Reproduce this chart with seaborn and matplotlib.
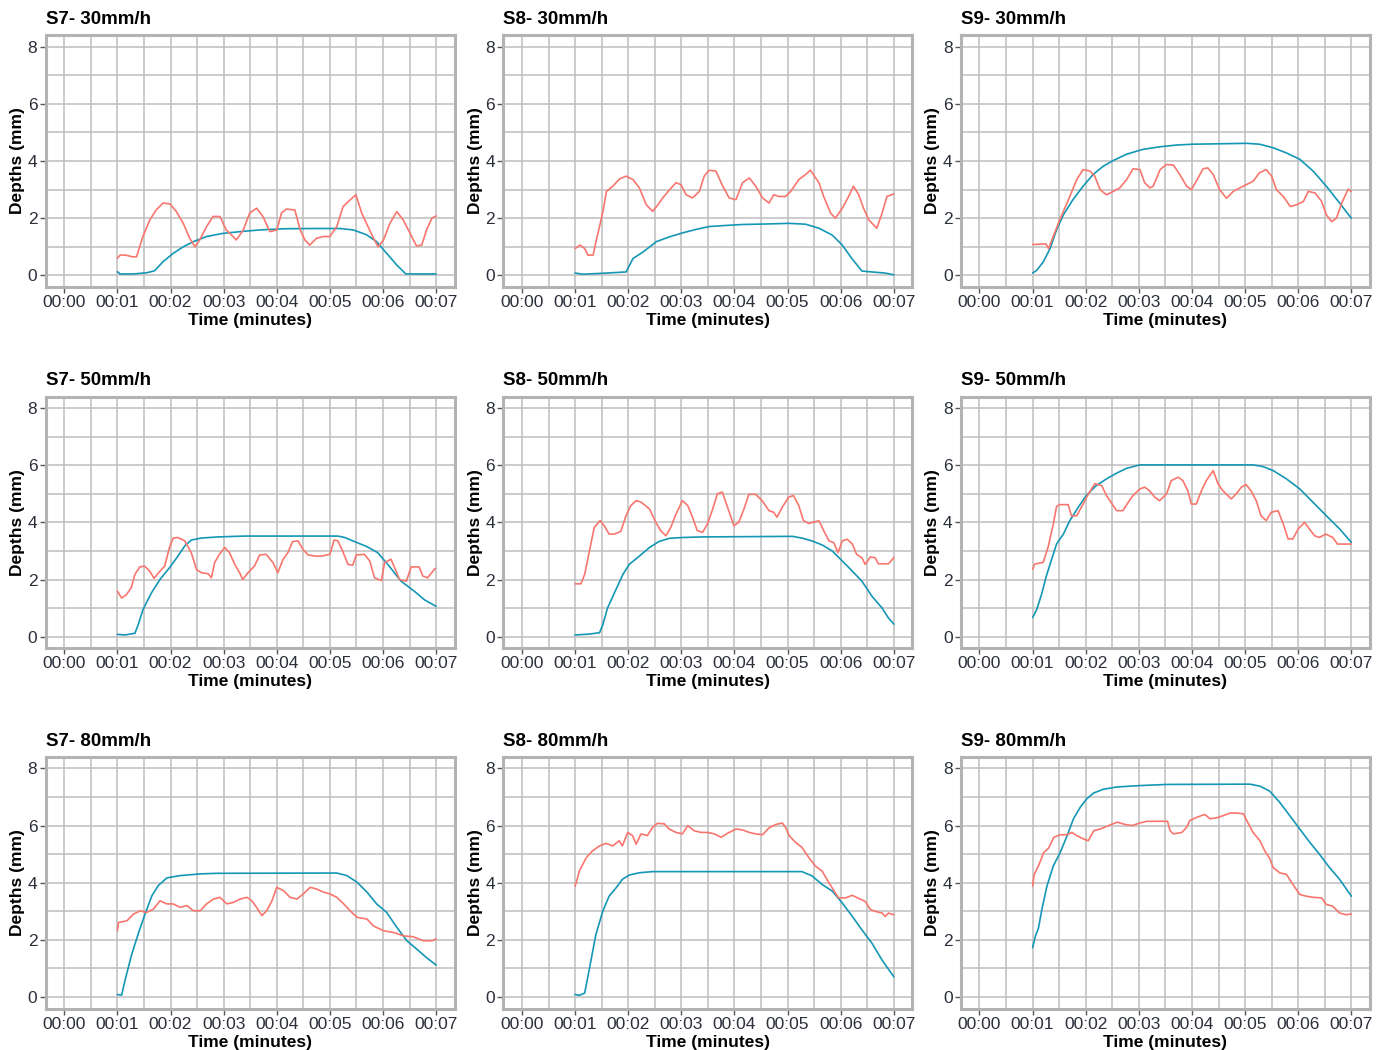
import numpy as np
import pandas as pd
import matplotlib
matplotlib.use("Agg")
import matplotlib.pyplot as plt
import seaborn as sns

# ---------------- data (time in minutes, depth in mm) ----------------
S7_30_T_RED = [1.0, 1.05, 1.15, 1.28, 1.36, 1.48, 1.61, 1.73, 1.86, 1.99, 2.11, 2.24, 2.36, 2.46, 2.55, 2.68, 2.80, 2.93, 3.05, 3.24, 3.37, 3.49, 3.62, 3.74, 3.87, 4.0, 4.09, 4.18, 4.34, 4.44, 4.53, 4.62, 4.75, 4.88, 5.0, 5.13, 5.25, 5.38, 5.49, 5.60, 5.69, 5.82, 5.91, 6.01, 6.13, 6.26, 6.38, 6.51, 6.63, 6.73, 6.82, 6.92, 7.0]
S7_30_RED = [0.6, 0.71, 0.71, 0.65, 0.65, 1.36, 1.94, 2.29, 2.53, 2.5, 2.23, 1.82, 1.3, 1.0, 1.24, 1.71, 2.06, 2.06, 1.59, 1.24, 1.59, 2.18, 2.35, 2.06, 1.53, 1.59, 2.18, 2.32, 2.29, 1.59, 1.24, 1.06, 1.3, 1.36, 1.36, 1.71, 2.41, 2.64, 2.82, 2.18, 1.82, 1.3, 1.0, 1.24, 1.82, 2.23, 1.94, 1.47, 1.03, 1.06, 1.59, 2.0, 2.08]
S7_30_T_BLUE = [1.0, 1.05, 1.3, 1.55, 1.70, 1.86, 2.05, 2.24, 2.43, 2.68, 2.99, 3.31, 3.68, 4.12, 4.75, 5.19, 5.44, 5.69, 5.88, 6.07, 6.26, 6.43, 7.0]
S7_30_BLUE = [0.13, 0.05, 0.05, 0.09, 0.16, 0.48, 0.77, 1.0, 1.18, 1.36, 1.47, 1.53, 1.59, 1.63, 1.64, 1.64, 1.59, 1.42, 1.18, 0.77, 0.36, 0.05, 0.05]

S8_30_T_RED = [1.0, 1.09, 1.18, 1.24, 1.34, 1.40, 1.46, 1.53, 1.59, 1.71, 1.84, 1.96, 2.09, 2.21, 2.34, 2.46, 2.56, 2.65, 2.78, 2.90, 2.99, 3.09, 3.21, 3.34, 3.43, 3.52, 3.65, 3.78, 3.90, 4.03, 4.15, 4.28, 4.40, 4.53, 4.65, 4.74, 4.84, 4.96, 5.06, 5.21, 5.34, 5.43, 5.59, 5.68, 5.81, 5.90, 6.03, 6.15, 6.24, 6.34, 6.43, 6.53, 6.68, 6.78, 6.87, 7.0]
S8_30_RED = [0.94, 1.06, 0.94, 0.71, 0.71, 1.24, 1.71, 2.29, 2.94, 3.12, 3.38, 3.47, 3.35, 3.06, 2.47, 2.24, 2.47, 2.71, 3.0, 3.24, 3.18, 2.82, 2.71, 2.94, 3.47, 3.68, 3.65, 3.12, 2.71, 2.65, 3.24, 3.41, 3.12, 2.71, 2.53, 2.82, 2.76, 2.76, 2.94, 3.35, 3.53, 3.68, 3.24, 2.76, 2.18, 2.0, 2.35, 2.76, 3.12, 2.82, 2.35, 1.94, 1.65, 2.18, 2.76, 2.85]
S8_30_T_BLUE = [1.0, 1.15, 1.59, 1.96, 2.09, 2.28, 2.53, 2.78, 3.03, 3.28, 3.53, 3.78, 4.15, 4.65, 5.03, 5.34, 5.59, 5.84, 6.03, 6.21, 6.40, 6.59, 6.84, 7.0]
S8_30_BLUE = [0.08, 0.04, 0.08, 0.12, 0.59, 0.82, 1.18, 1.35, 1.49, 1.61, 1.71, 1.74, 1.78, 1.8, 1.82, 1.79, 1.65, 1.41, 1.06, 0.59, 0.15, 0.12, 0.08, 0.02]

S9_30_T_RED = [1.0, 1.25, 1.30, 1.51, 1.70, 1.83, 1.95, 2.08, 2.17, 2.27, 2.39, 2.52, 2.64, 2.77, 2.89, 3.02, 3.11, 3.21, 3.27, 3.40, 3.52, 3.65, 3.77, 3.90, 3.99, 4.08, 4.21, 4.30, 4.40, 4.52, 4.65, 4.78, 4.90, 5.03, 5.15, 5.27, 5.40, 5.50, 5.59, 5.72, 5.85, 5.97, 6.10, 6.19, 6.32, 6.44, 6.53, 6.63, 6.72, 6.82, 6.94, 7.0]
S9_30_RED = [1.08, 1.1, 0.94, 1.94, 2.76, 3.35, 3.7, 3.65, 3.47, 3.0, 2.82, 2.94, 3.06, 3.35, 3.73, 3.7, 3.24, 3.06, 3.12, 3.7, 3.88, 3.86, 3.53, 3.12, 3.0, 3.29, 3.73, 3.76, 3.53, 3.0, 2.7, 2.94, 3.06, 3.18, 3.29, 3.59, 3.7, 3.47, 3.0, 2.76, 2.41, 2.47, 2.59, 2.94, 2.88, 2.59, 2.12, 1.88, 2.0, 2.53, 3.02, 2.94]
S9_30_T_BLUE = [1.0, 1.08, 1.2, 1.33, 1.45, 1.58, 1.76, 1.95, 2.14, 2.33, 2.52, 2.77, 3.08, 3.40, 3.71, 4.02, 4.40, 5.03, 5.27, 5.52, 5.77, 6.03, 6.28, 6.53, 6.78, 7.0]
S9_30_BLUE = [0.08, 0.18, 0.47, 0.94, 1.59, 2.12, 2.65, 3.12, 3.53, 3.82, 4.02, 4.24, 4.41, 4.5, 4.56, 4.59, 4.6, 4.62, 4.59, 4.47, 4.29, 4.06, 3.65, 3.12, 2.53, 2.0]

S7_50_T_RED = [1.0, 1.08, 1.17, 1.26, 1.33, 1.42, 1.51, 1.61, 1.69, 1.80, 1.89, 1.98, 2.05, 2.14, 2.27, 2.39, 2.49, 2.58, 2.71, 2.77, 2.83, 2.92, 3.02, 3.11, 3.21, 3.30, 3.36, 3.46, 3.58, 3.68, 3.80, 3.93, 4.02, 4.12, 4.21, 4.30, 4.40, 4.49, 4.59, 4.72, 4.84, 5.0, 5.08, 5.15, 5.24, 5.34, 5.43, 5.50, 5.65, 5.75, 5.84, 5.97, 6.03, 6.15, 6.22, 6.31, 6.44, 6.53, 6.68, 6.75, 6.84, 6.94, 6.98]
S7_50_RED = [1.59, 1.35, 1.47, 1.71, 2.18, 2.44, 2.47, 2.29, 2.04, 2.29, 2.47, 3.12, 3.45, 3.47, 3.35, 2.94, 2.35, 2.24, 2.2, 2.06, 2.59, 2.88, 3.12, 2.94, 2.53, 2.24, 2.0, 2.24, 2.47, 2.86, 2.88, 2.59, 2.24, 2.71, 2.94, 3.33, 3.35, 3.06, 2.86, 2.82, 2.82, 2.88, 3.38, 3.35, 3.0, 2.53, 2.5, 2.86, 2.88, 2.65, 2.06, 1.96, 2.59, 2.71, 2.41, 2.0, 1.94, 2.44, 2.44, 2.12, 2.06, 2.29, 2.39]
S7_50_T_BLUE = [1.0, 1.14, 1.33, 1.39, 1.48, 1.64, 1.80, 1.98, 2.14, 2.27, 2.39, 2.58, 2.89, 3.39, 5.15, 5.28, 5.46, 5.71, 5.90, 6.09, 6.34, 6.59, 6.78, 7.0]
S7_50_BLUE = [0.08, 0.06, 0.12, 0.41, 0.94, 1.53, 2.0, 2.41, 2.82, 3.18, 3.38, 3.45, 3.49, 3.52, 3.52, 3.47, 3.33, 3.14, 2.94, 2.53, 1.94, 1.59, 1.29, 1.06]

S8_50_T_RED = [1.0, 1.11, 1.18, 1.27, 1.36, 1.47, 1.55, 1.64, 1.74, 1.86, 1.96, 2.05, 2.15, 2.24, 2.40, 2.52, 2.61, 2.71, 2.80, 2.90, 3.02, 3.12, 3.21, 3.30, 3.40, 3.49, 3.58, 3.68, 3.77, 3.87, 3.99, 4.08, 4.18, 4.27, 4.40, 4.52, 4.65, 4.74, 4.80, 4.90, 5.02, 5.11, 5.21, 5.30, 5.40, 5.59, 5.68, 5.78, 5.87, 5.95, 6.03, 6.12, 6.22, 6.30, 6.40, 6.46, 6.56, 6.65, 6.71, 6.90, 7.0]
S8_50_RED = [1.85, 1.85, 2.18, 3.0, 3.82, 4.06, 3.88, 3.59, 3.59, 3.68, 4.24, 4.59, 4.76, 4.71, 4.47, 4.0, 3.71, 3.53, 3.82, 4.29, 4.76, 4.59, 4.18, 3.71, 3.65, 3.94, 4.41, 5.0, 5.06, 4.53, 3.88, 4.0, 4.47, 4.98, 4.98, 4.76, 4.41, 4.35, 4.18, 4.53, 4.88, 4.94, 4.59, 4.06, 3.96, 4.06, 3.71, 3.35, 3.29, 2.94, 3.35, 3.41, 3.24, 2.88, 2.76, 2.53, 2.79, 2.76, 2.55, 2.55, 2.76]
S8_50_T_BLUE = [1.0, 1.27, 1.46, 1.52, 1.61, 1.74, 1.90, 2.02, 2.21, 2.40, 2.58, 2.77, 3.02, 3.40, 5.09, 5.27, 5.46, 5.65, 5.84, 6.03, 6.22, 6.40, 6.59, 6.78, 6.90, 7.0]
S8_50_BLUE = [0.06, 0.09, 0.14, 0.41, 1.0, 1.53, 2.18, 2.53, 2.82, 3.12, 3.33, 3.44, 3.47, 3.49, 3.51, 3.45, 3.35, 3.21, 3.0, 2.65, 2.29, 1.94, 1.41, 1.0, 0.65, 0.44]

S9_50_T_RED = [1.0, 1.04, 1.20, 1.29, 1.39, 1.45, 1.51, 1.67, 1.73, 1.83, 1.95, 2.05, 2.17, 2.30, 2.39, 2.52, 2.58, 2.70, 2.80, 2.89, 3.02, 3.11, 3.20, 3.30, 3.39, 3.52, 3.61, 3.74, 3.83, 3.92, 3.99, 4.08, 4.18, 4.27, 4.40, 4.49, 4.58, 4.74, 4.83, 4.93, 5.02, 5.11, 5.21, 5.30, 5.40, 5.49, 5.62, 5.72, 5.81, 5.90, 6.0, 6.12, 6.21, 6.31, 6.40, 6.52, 6.65, 6.74, 7.0]
S9_50_RED = [2.36, 2.54, 2.6, 3.12, 3.94, 4.55, 4.62, 4.62, 4.23, 4.23, 4.64, 4.99, 5.35, 5.29, 4.94, 4.58, 4.41, 4.41, 4.7, 4.94, 5.17, 5.23, 5.11, 4.88, 4.76, 4.99, 5.46, 5.58, 5.46, 5.11, 4.64, 4.64, 5.11, 5.46, 5.81, 5.35, 5.11, 4.82, 4.99, 5.23, 5.32, 5.11, 4.76, 4.23, 4.06, 4.35, 4.41, 3.94, 3.42, 3.42, 3.77, 4.0, 3.77, 3.53, 3.47, 3.59, 3.47, 3.24, 3.24]
S9_50_T_BLUE = [1.0, 1.08, 1.17, 1.26, 1.39, 1.45, 1.58, 1.70, 1.86, 2.01, 2.20, 2.39, 2.58, 2.77, 3.02, 5.15, 5.34, 5.53, 5.78, 6.03, 6.28, 6.53, 6.78, 7.0]
S9_50_BLUE = [0.67, 0.96, 1.49, 2.13, 2.89, 3.24, 3.59, 4.06, 4.53, 4.94, 5.29, 5.52, 5.72, 5.89, 6.01, 6.01, 5.95, 5.81, 5.52, 5.17, 4.7, 4.23, 3.77, 3.3]

S7_80_T_RED = [1.0, 1.02, 1.18, 1.30, 1.43, 1.55, 1.68, 1.80, 1.93, 2.05, 2.18, 2.31, 2.43, 2.56, 2.68, 2.81, 2.93, 3.06, 3.18, 3.31, 3.44, 3.53, 3.62, 3.72, 3.81, 3.91, 4.0, 4.13, 4.25, 4.38, 4.50, 4.63, 4.75, 4.88, 5.0, 5.13, 5.26, 5.38, 5.51, 5.70, 5.82, 6.01, 6.20, 6.39, 6.57, 6.76, 6.92, 7.0]
S7_80_RED = [2.32, 2.61, 2.67, 2.9, 3.02, 2.96, 3.08, 3.37, 3.26, 3.26, 3.14, 3.2, 3.02, 3.02, 3.26, 3.43, 3.49, 3.26, 3.31, 3.43, 3.49, 3.37, 3.14, 2.85, 3.02, 3.37, 3.84, 3.72, 3.49, 3.43, 3.61, 3.84, 3.78, 3.67, 3.61, 3.49, 3.26, 3.02, 2.79, 2.73, 2.49, 2.32, 2.26, 2.14, 2.11, 1.97, 1.97, 2.03]
S7_80_T_BLUE = [1.0, 1.08, 1.14, 1.27, 1.40, 1.52, 1.65, 1.77, 1.93, 2.18, 2.56, 2.87, 5.13, 5.32, 5.51, 5.70, 5.88, 6.07, 6.26, 6.45, 6.64, 6.82, 7.0]
S7_80_BLUE = [0.09, 0.07, 0.56, 1.5, 2.26, 2.9, 3.55, 3.9, 4.17, 4.25, 4.31, 4.33, 4.34, 4.25, 4.02, 3.67, 3.26, 2.96, 2.44, 1.97, 1.67, 1.38, 1.12]

S8_80_T_RED = [1.0, 1.03, 1.08, 1.21, 1.33, 1.46, 1.58, 1.71, 1.83, 1.89, 1.99, 2.08, 2.15, 2.24, 2.36, 2.46, 2.55, 2.68, 2.77, 2.90, 3.02, 3.12, 3.24, 3.37, 3.49, 3.62, 3.75, 3.87, 4.03, 4.15, 4.28, 4.40, 4.53, 4.65, 4.78, 4.90, 4.96, 5.03, 5.15, 5.27, 5.40, 5.52, 5.65, 5.74, 5.84, 5.96, 6.09, 6.22, 6.34, 6.46, 6.56, 6.65, 6.78, 6.84, 6.90, 7.0]
S8_80_RED = [3.88, 4.06, 4.41, 4.88, 5.12, 5.29, 5.38, 5.29, 5.47, 5.29, 5.76, 5.65, 5.35, 5.71, 5.65, 5.94, 6.08, 6.06, 5.88, 5.76, 5.71, 6.0, 5.82, 5.76, 5.76, 5.71, 5.59, 5.73, 5.88, 5.85, 5.76, 5.71, 5.68, 5.92, 6.04, 6.09, 5.94, 5.65, 5.41, 5.24, 4.88, 4.59, 4.41, 4.12, 3.82, 3.47, 3.47, 3.56, 3.45, 3.35, 3.06, 3.0, 2.94, 2.82, 2.94, 2.88]
S8_80_T_BLUE = [1.0, 1.08, 1.18, 1.27, 1.39, 1.52, 1.64, 1.77, 1.89, 2.02, 2.21, 2.46, 5.27, 5.46, 5.65, 5.84, 6.03, 6.22, 6.40, 6.59, 6.78, 7.0]
S8_80_BLUE = [0.09, 0.06, 0.14, 1.0, 2.18, 3.0, 3.53, 3.82, 4.12, 4.27, 4.35, 4.39, 4.39, 4.24, 3.94, 3.71, 3.29, 2.82, 2.35, 1.88, 1.29, 0.71]

S9_80_T_RED = [1.0, 1.03, 1.11, 1.21, 1.30, 1.40, 1.52, 1.65, 1.74, 1.83, 1.96, 2.05, 2.15, 2.27, 2.43, 2.59, 2.74, 2.87, 3.02, 3.15, 3.40, 3.54, 3.59, 3.65, 3.81, 3.90, 3.96, 4.09, 4.24, 4.34, 4.46, 4.59, 4.72, 4.84, 4.97, 5.03, 5.15, 5.28, 5.37, 5.46, 5.53, 5.65, 5.78, 5.90, 6.03, 6.15, 6.28, 6.44, 6.53, 6.65, 6.78, 6.90, 7.0]
S9_80_RED = [3.88, 4.29, 4.59, 5.06, 5.21, 5.59, 5.68, 5.68, 5.76, 5.65, 5.53, 5.47, 5.82, 5.88, 6.0, 6.12, 6.04, 6.0, 6.09, 6.15, 6.15, 6.15, 5.82, 5.71, 5.76, 5.94, 6.18, 6.29, 6.39, 6.24, 6.27, 6.35, 6.44, 6.44, 6.41, 6.18, 5.76, 5.47, 5.12, 4.86, 4.53, 4.35, 4.29, 3.94, 3.59, 3.53, 3.49, 3.47, 3.24, 3.18, 2.94, 2.88, 2.91]
S9_80_T_BLUE = [1.0, 1.05, 1.11, 1.18, 1.27, 1.39, 1.52, 1.65, 1.77, 1.90, 2.02, 2.15, 2.33, 2.58, 3.02, 3.52, 5.09, 5.28, 5.46, 5.65, 5.84, 6.03, 6.22, 6.40, 6.59, 6.78, 7.0]
S9_80_BLUE = [1.73, 2.12, 2.41, 3.12, 3.88, 4.59, 5.06, 5.65, 6.24, 6.65, 6.94, 7.14, 7.27, 7.35, 7.4, 7.44, 7.45, 7.38, 7.21, 6.82, 6.35, 5.88, 5.41, 5.0, 4.53, 4.12, 3.53]

TITLES = ["S7- 30mm/h", "S8- 30mm/h", "S9- 30mm/h",
          "S7- 50mm/h", "S8- 50mm/h", "S9- 50mm/h",
          "S7- 80mm/h", "S8- 80mm/h", "S9- 80mm/h"]
X_TICKS = [0, 1, 2, 3, 4, 5, 6, 7]
X_TICK_LABELS = ["00:00", "00:01", "00:02", "00:03", "00:04", "00:05", "00:06", "00:07"]
Y_TICKS = [0, 2, 4, 6, 8]

PANELS = [
    (S7_30_T_RED, S7_30_RED, S7_30_T_BLUE, S7_30_BLUE),
    (S8_30_T_RED, S8_30_RED, S8_30_T_BLUE, S8_30_BLUE),
    (S9_30_T_RED, S9_30_RED, S9_30_T_BLUE, S9_30_BLUE),
    (S7_50_T_RED, S7_50_RED, S7_50_T_BLUE, S7_50_BLUE),
    (S8_50_T_RED, S8_50_RED, S8_50_T_BLUE, S8_50_BLUE),
    (S9_50_T_RED, S9_50_RED, S9_50_T_BLUE, S9_50_BLUE),
    (S7_80_T_RED, S7_80_RED, S7_80_T_BLUE, S7_80_BLUE),
    (S8_80_T_RED, S8_80_RED, S8_80_T_BLUE, S8_80_BLUE),
    (S9_80_T_RED, S9_80_RED, S9_80_T_BLUE, S9_80_BLUE),
]

RED = "#F8766D"
BLUE = "#1497B5"
GRID = "#BEBEBE"
BORDER = "#B3B3B3"
TICKC = "#555555"
TEXT = "#2B2F3A"

# ---------------- styling ----------------
sns.set_theme(style="whitegrid")
plt.rcParams["font.family"] = ["Liberation Sans", "DejaVu Sans"]

W, H = 1384, 1050
fig = plt.figure(figsize=(W / 100, H / 100), dpi=100)
fig.patch.set_facecolor("white")

lefts = [45.7, 503.4, 960.9]
tops = [35.3, 396.6, 757.0]
aw, ah = 409.0, 251.5

for i, (tr, red, tb, blue) in enumerate(PANELS):
    r, c = divmod(i, 3)
    ax = fig.add_axes([lefts[c] / W, 1 - (tops[r] + ah) / H, aw / W, ah / H])
    ax.set_facecolor("white")

    df_red = pd.DataFrame({"Time": tr, "Depth": red})
    df_blue = pd.DataFrame({"Time": tb, "Depth": blue})
    sns.lineplot(data=df_blue, x="Time", y="Depth", color=BLUE, linewidth=1.2, ax=ax, zorder=3)
    sns.lineplot(data=df_red, x="Time", y="Depth", color=RED, linewidth=1.2, ax=ax, zorder=4)

    ax.set_xlim(-0.35, 7.35)
    ax.set_ylim(-0.4, 8.4)
    ax.set_xticks(X_TICKS)
    ax.set_xticklabels(X_TICK_LABELS)
    ax.set_xticks(np.arange(0.5, 7.0, 1.0), minor=True)
    ax.set_yticks(Y_TICKS)
    ax.set_yticks([1, 3, 5, 7], minor=True)
    ax.grid(which="both", color=GRID, linewidth=1.1)
    ax.set_axisbelow(True)

    ax.tick_params(axis="both", which="major", length=4, width=1.0, color=TICKC,
                   labelsize=12.5, labelcolor=TEXT, pad=2, direction="out")
    ax.tick_params(axis="both", which="minor", length=0)
    ax.tick_params(axis="x", which="major", bottom=True)
    ax.tick_params(axis="y", which="major", left=True)

    for s in ax.spines.values():
        s.set_visible(True)
        s.set_color(BORDER)
        s.set_linewidth(2.2)

    ax.set_xlabel("Time (minutes)", fontsize=12.5, fontweight="bold", color="black", labelpad=2)
    ax.set_ylabel("Depths (mm)", fontsize=12.5, fontweight="bold", color="black", labelpad=2)
    ax.set_title(TITLES[i], loc="left", fontsize=13.5, fontweight="bold", color="black", pad=8)

fig.savefig("out.png", dpi=100, facecolor="white")
